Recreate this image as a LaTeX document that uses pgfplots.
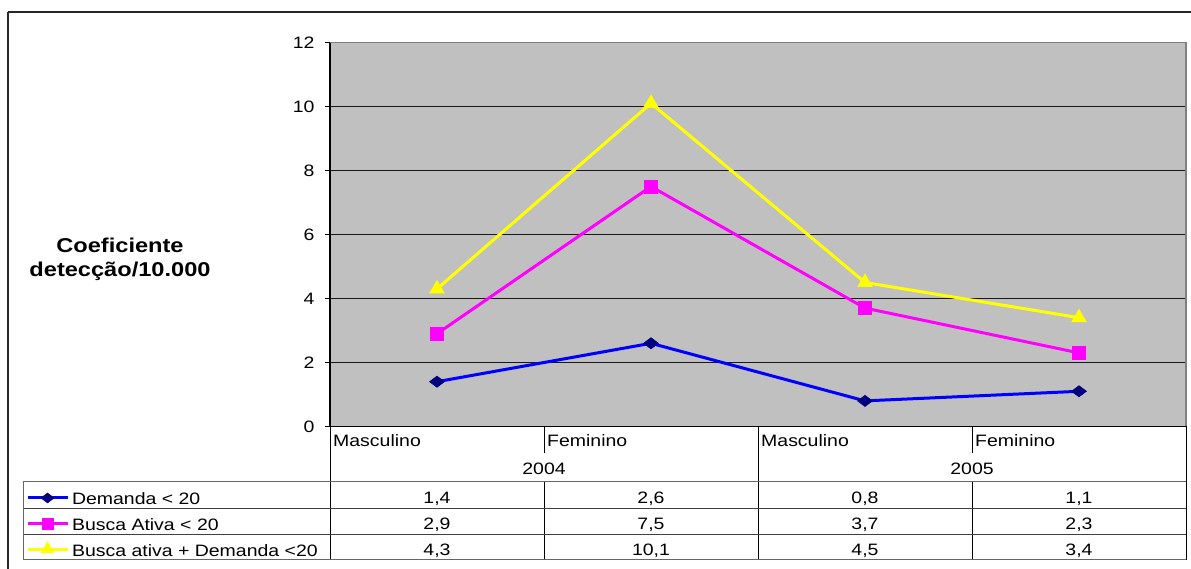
\documentclass[border=0pt]{standalone}
\usepackage{fontspec}
\setmainfont{Liberation Sans}[FakeStretch=1.18]
\usepackage{pgfplots}
\usepackage{pgfplotstable}
\pgfplotsset{compat=1.18}

\definecolor{plotbg}{RGB}{192,192,192}
\definecolor{plotframe}{RGB}{128,128,128}
\definecolor{demblue}{RGB}{0,0,255}
\definecolor{demnavy}{RGB}{0,0,128}
\definecolor{buscamag}{RGB}{255,0,255}
\definecolor{totyellow}{RGB}{255,255,0}

% coeficiente de detecção por 10.000: 2004 M, 2004 F, 2005 M, 2005 F
\pgfplotstableread{
x dem busca total
0 1.4 2.9 4.3
1 2.6 7.5 10.1
2 0.8 3.7 4.5
3 1.1 2.3 3.4
}\coefdata

\newcommand\tabfont{\fontsize{16.5}{19}\selectfont}
\newcommand\labfont{\fontsize{20}{23}\bfseries\selectfont}

\begin{document}
\begin{tikzpicture}[x=1pt,y=1pt]
\useasboundingbox (0,0) rectangle (1191,569);

% outer frame
\draw[black!85, line width=1.2pt] (8,{569-12}) -- (1191,{569-12});
\draw[black!85, line width=1.3pt] (8,{569-12}) -- (8,0);

\begin{axis}[
  at={(330pt,142.5pt)}, anchor=south west,
  scale only axis, width=856pt, height=384pt,
  xmin=-0.5, xmax=3.5, ymin=0, ymax=12,
  ytick={0,2,...,12}, xtick=\empty,
  axis x line*=bottom, axis y line*=left,
  axis line style={black, line width=1.2pt, -},
  tick align=outside, major tick length=5pt,
  tick style={black, line width=1pt},
  ymajorgrids, grid style={black!90, line width=1.1pt},
  axis background/.style={fill=plotbg},
  yticklabel style={font=\tabfont, xshift=-7pt},
  /pgf/number format/assume math mode=true,
  clip=false,
  legend style={at={(axis description cs:-0.3551,-0.1458)}, anchor=north west,
    draw=none, fill=none, inner sep=0pt, outer sep=0pt,
    row sep=0pt, column sep=3pt, font=\tabfont,
    cells={anchor=base west},
    nodes={inner sep=0pt, text height=22.5pt, text depth=3.1pt}},
  legend image code/.code={%
    \draw[mark repeat=2, mark phase=2, #1, every mark/.append style={scale=0.88}]
      plot coordinates {(0pt,7pt) (20pt,7pt) (40pt,7pt)};},
]
\draw[plotframe, line width=1.2pt] (rel axis cs:0,1) -- (rel axis cs:1,1) -- (rel axis cs:1,0);

\addplot[demblue, line width=3pt, mark=diamond*, mark size=7.5pt,
  mark options={draw=demnavy, fill=demnavy, rotate=90, line width=0.5pt}]
  table[x=x, y=dem] {\coefdata};
\addlegendentry{Demanda < 20}

\addplot[buscamag, line width=3pt, mark=square*, mark size=6.5pt,
  mark options={draw=buscamag, fill=buscamag, line width=0.5pt}]
  table[x=x, y=busca] {\coefdata};
\addlegendentry{Busca Ativa < 20}

\addplot[totyellow, line width=3pt, mark=triangle*, mark size=8.5pt,
  mark options={draw=totyellow, fill=totyellow, line width=0.5pt}]
  table[x=x, y=total] {\coefdata};
\addlegendentry{Busca ativa + Demanda <20}
\end{axis}

% y-axis title
\node[anchor=base, font=\labfont, inner sep=0pt] at (120,{569-253}) {Coeficiente};
\node[anchor=base, font=\labfont, inner sep=0pt] at (120,{569-277}) {detecção/10.000};

% category header and data table grid
\begin{scope}[line width=1pt]
  \draw[black] (330,{569-426.5}) -- (330,{569-560});
  \draw[black] (1186,{569-426.5}) -- (1186,{569-560});
  \draw[black] (758,{569-426.5}) -- (758,{569-560});
  \draw[black] (544,{569-426.5}) -- (544,{569-453});
  \draw[black] (972,{569-426.5}) -- (972,{569-453});
  \draw[black] (544,{569-482}) -- (544,{569-560});
  \draw[black] (972,{569-482}) -- (972,{569-560});
  \draw[black!60] (23,{569-482}) -- (1186,{569-482});
  \draw[black!75] (23,{569-508.7}) -- (1186,{569-508.7});
  \draw[black!75] (23,{569-535}) -- (1186,{569-535});
  \draw[black!60] (23,{569-560}) -- (1186,{569-560});
  \draw[black!60] (23,{569-482}) -- (23,{569-560});
\end{scope}

\begin{scope}[every node/.style={font=\tabfont, inner sep=0pt}]
  \node[anchor=base west] at (333,{569-447}) {Masculino};
  \node[anchor=base west] at (547,{569-447}) {Feminino};
  \node[anchor=base west] at (761,{569-447}) {Masculino};
  \node[anchor=base west] at (975,{569-447}) {Feminino};
  \node[anchor=base] at (544,{569-475}) {2004};
  \node[anchor=base] at (972,{569-475}) {2005};
  % values of each series, one row per series
  \foreach \col/\yb in {dem/504, busca/530, total/555.7} {
    \foreach \r in {0,...,3} {
      \pgfplotstablegetelem{\r}{\col}\of\coefdata
      \node[anchor=base] at ({437+214*\r},{569-\yb})
        {\pgfmathprintnumber[fixed, fixed zerofill, precision=1, use comma,
           assume math mode=true]{\pgfplotsretval}};
    }
  }
\end{scope}
\end{tikzpicture}
\end{document}
